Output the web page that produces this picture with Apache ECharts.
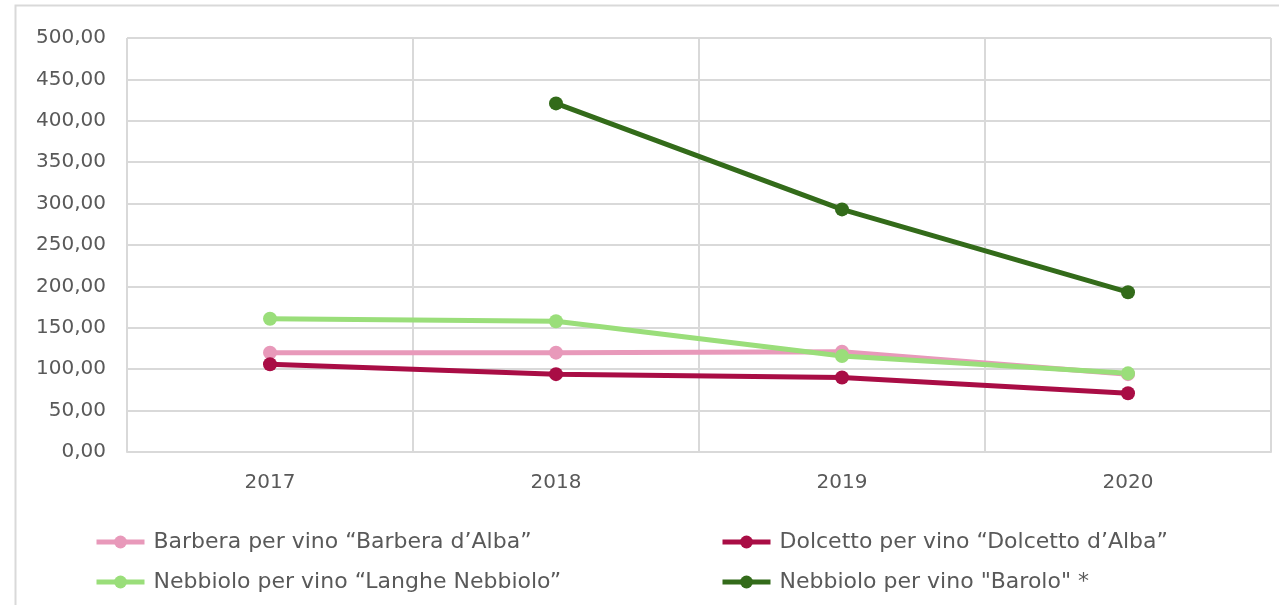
<!DOCTYPE html>
<html>
<head>
<meta charset="utf-8">
<script src="https://cdn.jsdelivr.net/npm/echarts@6/dist/echarts.min.js"></script>
<style>
  html, body { margin: 0; padding: 0; background: #fff; }
  #chart { width: 1279px; height: 605px; }
</style>
</head>
<body>
<div id="chart"></div>
<script>
// anni e prezzi
var years = ['2017', '2018', '2019', '2020']
var barbera = [120, 120, 121, 94]
var dolcetto = [106, 94, 90, 71]
var langhe = [161, 158, 116, 95]
var barolo = ['-', 421, 293, 193]
var yTicks = [0, 50, 100, 150, 200, 250, 300, 350, 400, 450, 500]

var names = [
  'Barbera per vino “Barbera d’Alba”',
  'Dolcetto per vino “Dolcetto d’Alba”',
  'Nebbiolo per vino “Langhe Nebbiolo”',
  'Nebbiolo per vino "Barolo" *'
]
var colors = ['#e899ba', '#a90d45', '#9ade7a', '#336b1a']
var values = [barbera, dolcetto, langhe, barolo]

var font = '"DejaVu Sans", sans-serif'
var grey = '#d9d9d9'

function makeSeries (i) {
  return {
    name: names[i],
    type: 'line',
    data: values[i],
    symbol: 'circle',
    symbolSize: 14,
    lineStyle: { width: 5, color: colors[i] },
    itemStyle: { color: colors[i] },
    emphasis: { disabled: true }
  }
}

var legendBase = {
  orient: 'vertical',
  top: 526,
  itemGap: 18,
  itemWidth: 48,
  itemHeight: 16,
  lineStyle: { width: 5 },
  textStyle: { fontFamily: font, fontSize: 22, color: '#595959', padding: [0, 0, 0, 4] }
}

var chart = echarts.init(document.getElementById('chart'))
chart.setOption({
  animation: false,
  graphic: [{
    type: 'rect',
    shape: { x: 15.5, y: 5.5, width: 1400, height: 800 },
    style: { fill: 'none', stroke: grey, lineWidth: 2 },
    silent: true
  }],
  grid: { left: 127, right: 8, top: 38, bottom: 153 },
  legend: [
    Object.assign({}, legendBase, { left: 89, data: [names[0], names[2]] }),
    Object.assign({}, legendBase, { left: 715, data: [names[1], names[3]] })
  ],
  xAxis: {
    type: 'category',
    data: years,
    boundaryGap: true,
    axisLine: { lineStyle: { color: grey, width: 2 } },
    axisTick: { show: false },
    axisLabel: { color: '#595959', fontFamily: font, fontSize: 20, margin: 21 },
    splitLine: { show: true, lineStyle: { color: grey, width: 2 } }
  },
  yAxis: {
    type: 'value',
    min: yTicks[0],
    max: yTicks[yTicks.length - 1],
    interval: 50,
    axisLine: { show: false },
    axisTick: { show: false },
    axisLabel: {
      color: '#595959',
      fontFamily: font,
      fontSize: 20,
      margin: 21,
      formatter: function (v) { return v.toFixed(2).replace('.', ',') }
    },
    splitLine: { lineStyle: { color: grey, width: 2 } }
  },
  series: [makeSeries(0), makeSeries(1), makeSeries(2), makeSeries(3)]
})
</script>
</body>
</html>
